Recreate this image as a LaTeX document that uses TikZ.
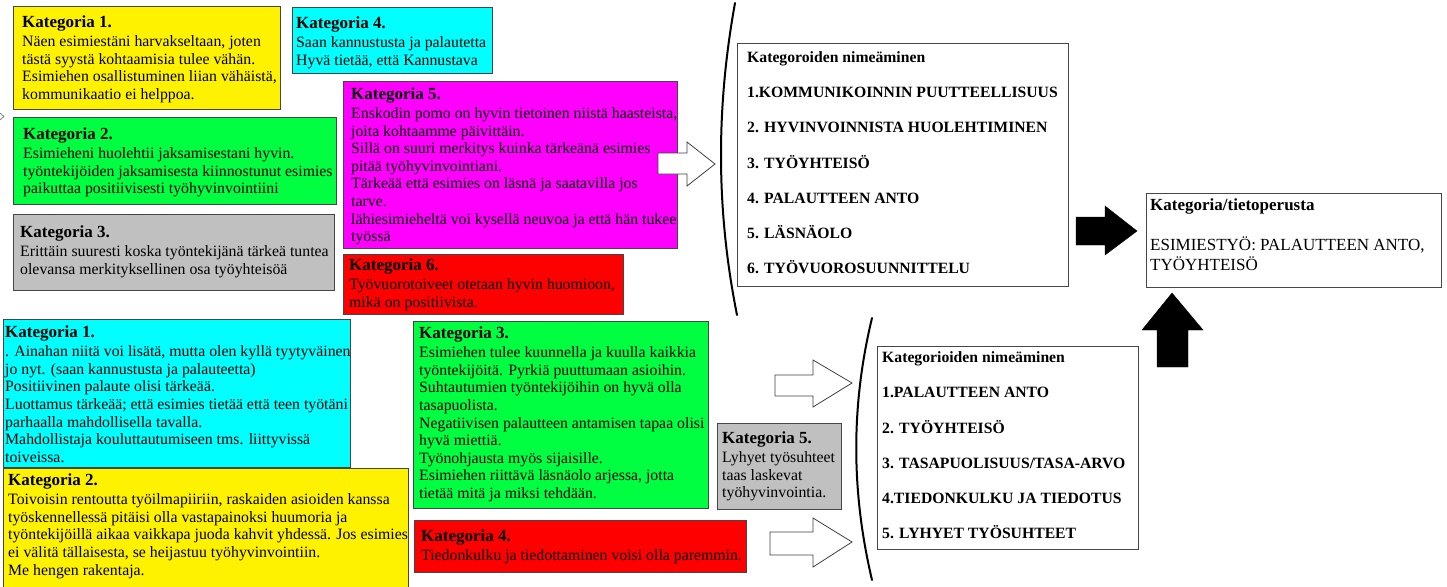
\documentclass[tikz,border=0pt]{standalone}
\usepackage{fontspec}
\setmainfont{Liberation Serif}
\usetikzlibrary{calc}
\definecolor{kyellow}{RGB}{255,242,0}
\definecolor{kgreen}{RGB}{0,255,64}
\definecolor{kcyan}{RGB}{0,255,255}
\definecolor{kmag}{RGB}{255,0,255}
\definecolor{kred}{RGB}{255,0,0}
\definecolor{kgray}{RGB}{192,192,192}
\definecolor{kedge}{RGB}{70,70,70}
\tikzset{
  kframe/.style={draw=kedge, line width=1pt, anchor=north west, inner sep=0pt, outer sep=0pt},
  wframe/.style={draw=kedge, line width=1pt, fill=white, anchor=north west, inner sep=0pt, outer sep=0pt},
  ktext/.style={anchor=north west, inner sep=0pt, align=left, font=\fontsize{15.8}{17.6}\selectfont},
  ctext/.style={anchor=north west, inner sep=0pt, align=left, font=\bfseries\fontsize{15.7}{35.2}\selectfont},
  hollow/.style={draw=black!75, line width=0.8pt, fill=white},
  solid/.style={fill=black, draw=black},
  brace/.style={line width=2pt, line cap=round}
}
\newcommand{\kt}[1]{{\bfseries\fontsize{17}{17.6}\selectfont Kategoria #1.}\\[1.5pt]}
\newcommand{\kbox}[9]{%
  \node[kframe, fill=#6, minimum width=#4pt, minimum height=#5pt] (#1) at (#2,#3) {};
  \node[ktext] (#1t) at ($(#1.north west)+(#7,#8)$) {#9};
}
\begin{document}
\begin{tikzpicture}[x=1pt,y=-1pt]
\useasboundingbox (0,0) rectangle (1447,586);
% top group
\kbox{tka}{13}{7}{267}{102}{kyellow}{9}{8.5}{\kt{1}Näen esimiestäni harvakseltaan, joten\\tästä syystä kohtaamisia tulee vähän.\\Esimiehen osallistuminen liian vähäistä,\\kommunikaatio ei helppoa.}
\kbox{tkd}{292}{8}{200}{65}{kcyan}{4}{8.5}{\kt{4}Saan kannustusta ja palautetta\\Hyvä tietää, että Kannustava}
\kbox{tke}{343}{81}{334}{167}{kmag}{8}{6.5}{\fontsize{15.3}{17.6}\selectfont\kt{5}Enskodin pomo on hyvin tietoinen niistä haasteista,\\joita kohtaamme päivittäin.\\Sillä on suuri merkitys kuinka tärkeänä esimies\\pitää työhyvinvointiani.\\Tärkeää että esimies on läsnä ja saatavilla jos\\tarve.\\lähiesimieheltä voi kysellä neuvoa ja että hän tukee\\työssä}
\kbox{tkb}{13}{117}{323}{87}{kgreen}{10}{10.5}{\fontsize{15.6}{17.6}\selectfont\kt{2}Esimieheni huolehtii jaksamisestani hyvin.\\työntekijöiden jaksamisesta kiinnostunut esimies\\paikuttaa positiivisesti työhyvinvointiini}
\kbox{tkc}{13}{214}{321}{76}{kgray}{7}{11.5}{\kt{3}Erittäin suuresti koska työntekijänä tärkeä tuntea\\olevansa merkityksellinen osa työyhteisöä}
\kbox{tkf}{343}{254}{280}{60}{kred}{6}{4.5}{\kt{6}Työvuorotoiveet otetaan hyvin huomioon,\\mikä on positiivista.}
% bottom group
\kbox{bka}{3}{319}{347}{148}{kcyan}{2}{6.5}{\fontsize{15.6}{17.6}\selectfont\kt{1}. Ainahan niitä voi lisätä, mutta olen kyllä tyytyväinen\\jo nyt. (saan kannustusta ja palauteetta)\\Positiivinen palaute olisi tärkeää.\\Luottamus tärkeää; että esimies tietää että teen työtäni\\parhaalla mahdollisella tavalla.\\Mahdollistaja kouluttautumiseen tms. liittyvissä\\toiveissa.}
\kbox{bkb}{3}{468}{405}{125}{kyellow}{5}{5.5}{\fontsize{15.8}{18.3}\selectfont\kt{2}Toivoisin rentoutta työilmapiiriin, raskaiden asioiden kanssa\\työskennellessä pitäisi olla vastapainoksi huumoria ja\\työntekijöillä aikaa vaikkapa juoda kahvit yhdessä. Jos esimies\\ei välitä tällaisesta, se heijastuu työhyvinvointiin.\\Me hengen rakentaja.}
\kbox{bkc}{413}{321}{295}{187}{kgreen}{6}{5.5}{\kt{3}Esimiehen tulee kuunnella ja kuulla kaikkia\\työntekijöitä. Pyrkiä puuttumaan asioihin.\\Suhtautumien työntekijöihin on hyvä olla\\tasapuolista.\\Negatiivisen palautteen antamisen tapaa olisi\\hyvä miettiä.\\Työnohjausta myös sijaisille.\\Esimiehen riittävä läsnäolo arjessa, jotta\\tietää mitä ja miksi tehdään.}
\kbox{bke}{717}{423}{124}{86}{kgray}{5}{8.5}{\fontsize{18}{17.6}\selectfont\kt{5}Lyhyet työsuhteet\\taas laskevat\\työhyvinvointia.}
\kbox{bkd}{414}{520}{332}{52}{kred}{7}{9.5}{\kt{4}Tiedonkulku ja tiedottaminen voisi olla paremmin.}
% hollow arrows
\draw[hollow] (658,153) -- (687,153) -- (687,142) -- (715,164) -- (687,186) -- (687,174) -- (658,174) -- cycle;
\draw[hollow] (775,375) -- (813,375) -- (813,360) -- (852,383) -- (813,407) -- (813,396) -- (775,396) -- cycle;
\draw[hollow] (770,532) -- (813,532) -- (813,518) -- (852,542) -- (813,567) -- (813,555) -- (770,555) -- cycle;
% small chevron at left edge
\draw[draw=black!60, line width=0.6pt] (0,113) -- (4,116.5) -- (0,120);
% braces
\draw[brace] (735,3) .. controls (716,108) and (716,210) .. (737,315);
\draw[brace] (872,318) .. controls (851,405) and (851,491) .. (872,580);
% category name boxes
\node[wframe, minimum width=331pt, minimum height=242pt] (cata) at (737,44) {};
\node[ctext] (catat) at ($(cata.north west)+(10,7.5)$) {Kategoroiden nimeäminen\\1.KOMMUNIKOINNIN PUUTTEELLISUUS\\2. HYVINVOINNISTA HUOLEHTIMINEN\\3. TYÖYHTEISÖ\\4. PALAUTTEEN ANTO\\5. LÄSNÄOLO\\6. TYÖVUOROSUUNNITTELU};
\node[wframe, minimum width=261pt, minimum height=203pt] (catb) at (877,346) {};
\node[ctext] (catbt) at ($(catb.north west)+(5,5.5)$) {Kategorioiden nimeäminen\\1.PALAUTTEEN ANTO\\2. TYÖYHTEISÖ\\3. TASAPUOLISUUS/TASA-ARVO\\4.TIEDONKULKU JA TIEDOTUS\\5. LYHYET TYÖSUHTEET};
\node[wframe, minimum width=295pt, minimum height=94pt] (res) at (1146,193) {};
\node[anchor=north west, inner sep=0pt, align=left, font=\fontsize{17}{20}\selectfont] (rest) at ($(res.north west)+(4,6)$) {{\bfseries Kategoria/tietoperusta}\\[20pt]ESIMIESTYÖ: PALAUTTEEN ANTO,\\TYÖYHTEISÖ};
% solid arrows
\fill[solid] (1076,217) -- (1105,217) -- (1105,206) -- (1137,231) -- (1105,255) -- (1105,245) -- (1076,245) -- cycle;
\fill[solid] (1157,367) -- (1157,330) -- (1142,330) -- (1172,293) -- (1203,330) -- (1188,330) -- (1188,367) -- cycle;
\end{tikzpicture}
\end{document}
